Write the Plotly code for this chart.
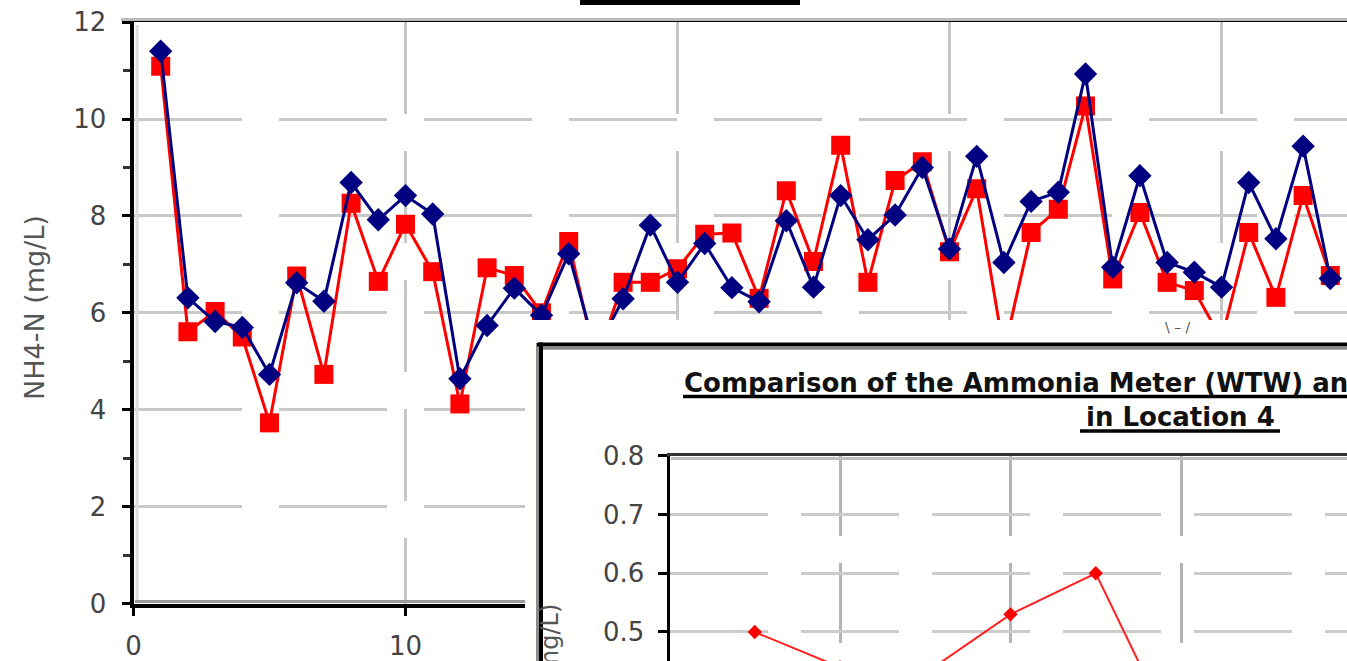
import plotly.graph_objects as go

W, H = 1347, 661

# NH4-N readings per sample (mg/L)
sample_no = list(range(1, 45))
nh4_wtw = [11.40, 6.31, 5.82, 5.70, 4.73, 6.62, 6.24, 8.69, 7.92, 8.42,
           8.04, 4.64, 5.74, 6.51, 5.95, 7.22, 5.20, 6.29, 7.81, 6.63,
           7.43, 6.52, 6.23, 7.90, 6.53, 8.42, 7.51, 8.02, 9.00, 7.32,
           9.23, 7.04, 8.30, 8.49, 10.93, 6.94, 8.83, 7.04, 6.84, 6.53,
           8.69, 7.53, 9.44, 6.71]
nh4_lab = [11.09, 5.61, 6.03, 5.50, 3.73, 6.76, 4.73, 8.26, 6.65, 7.83,
           6.85, 4.12, 6.93, 6.77, 6.00, 7.47, 5.00, 6.63, 6.63, 6.91,
           7.62, 7.65, 6.30, 8.52, 7.06, 9.46, 6.63, 8.73, 9.12, 7.26,
           8.56, 5.20, 7.66, 8.14, 10.27, 6.70, 8.07, 6.63, 6.46, 5.45,
           7.66, 6.32, 8.42, 6.77]

# Location 4 readings (mg/L)
loc4_sample = [1, 2, 3, 4, 5, 6]
loc4_nh4 = [0.50, 0.44, 0.43, 0.53, 0.60, 0.30]

main_yticks = [0, 2, 4, 6, 8, 10, 12]
main_xticks = [0, 10, 20, 30, 40]
inset_yticks = [0.5, 0.6, 0.7, 0.8]
inset_ticktext = ["0.5", "0.6", "0.7", "0.8"]


def px_x(p):
    return p / W


def px_y(p):
    return (H - p) / H


TICK_FONT = dict(family="DejaVu Sans", size=26, color="#444444")

fig = go.Figure()

fig.add_trace(go.Scatter(
    x=sample_no, y=nh4_lab, mode="lines+markers", name="Lab",
    line=dict(color="#FF0000", width=3),
    marker=dict(symbol="square", size=19, color="#FF0000", line=dict(width=0)),
    xaxis="x", yaxis="y", showlegend=False))
fig.add_trace(go.Scatter(
    x=sample_no, y=nh4_wtw, mode="lines+markers", name="WTW meter",
    line=dict(color="#000080", width=3),
    marker=dict(symbol="diamond", size=18, color="#000080", line=dict(width=0)),
    xaxis="x", yaxis="y", showlegend=False))
# empty trace so the white panel subplot is created right after the main one
fig.add_trace(go.Scatter(x=[], y=[], mode="markers", xaxis="x2", yaxis="y2",
                         showlegend=False, hoverinfo="skip"))
fig.add_trace(go.Scatter(
    x=loc4_sample, y=loc4_nh4, mode="lines+markers", name="Location 4",
    line=dict(color="#FF2020", width=2),
    marker=dict(symbol="diamond", size=11, color="#FF0000", line=dict(width=0)),
    xaxis="x3", yaxis="y3", showlegend=False))

x0_main, xs_main = 133.5, 27.2
layout = dict(
    width=W, height=H,
    margin=dict(l=0, r=0, t=0, b=0, pad=0, autoexpand=False),
    paper_bgcolor="#ffffff", plot_bgcolor="#fffffe", showlegend=False,
    xaxis=dict(
        domain=[px_x(x0_main), 1], range=[0, (W - x0_main) / xs_main],
        tickvals=main_xticks, ticks="outside", ticklen=8, tickwidth=3,
        tickcolor="black", showline=True, linecolor="black", linewidth=4,
        mirror=True, showgrid=True, gridcolor="#c8c8c8", gridwidth=3,
        griddash="92px,37px", zeroline=False, tickfont=TICK_FONT,
        ticklabelstandoff=8, anchor="y", automargin=False),
    yaxis=dict(
        domain=[px_y(603.6), px_y(22.1)], range=[0, 12],
        tickvals=main_yticks, ticks="outside", ticklen=8, tickwidth=3,
        tickcolor="black", showline=True, linecolor="black", linewidth=4,
        showgrid=True, gridcolor="#c8c8c8", gridwidth=3,
        griddash="108px,37px", zeroline=False, tickfont=TICK_FONT,
        ticklabelstandoff=10, anchor="x", automargin=False,
        minor=dict(dtick=1, tick0=0, ticks="outside", ticklen=7,
                   tickwidth=3, tickcolor="#333333", showgrid=False)),
    # white panel holding the Location 4 chart
    xaxis2=dict(domain=[px_x(525), 1], range=[0, 1], showline=False,
                showgrid=False, zeroline=False, showticklabels=False,
                ticks="", anchor="y2", automargin=False, fixedrange=True),
    yaxis2=dict(domain=[0, px_y(320)], range=[0, 1], showline=False,
                showgrid=False, zeroline=False, showticklabels=False,
                ticks="", anchor="x2", automargin=False, fixedrange=True),
    xaxis3=dict(domain=[px_x(669.5), 1], range=[0, (W - 669.5) / 85.25],
                dtick=2, tick0=0, side="top", showline=True,
                linecolor="#333333", linewidth=3, showticklabels=False,
                ticks="", showgrid=True, gridcolor="#b4b4b4", gridwidth=3,
                griddash="80px,27px", zeroline=False, anchor="y3",
                automargin=False),
    yaxis3=dict(domain=[0, px_y(455.5)], range=[0.4506, 0.8005],
                tickvals=inset_yticks, ticktext=inset_ticktext,
                ticks="outside", ticklen=9, tickwidth=3, tickcolor="black",
                showline=True, linecolor="black", linewidth=3,
                showgrid=True, gridcolor="#cccccc", gridwidth=3,
                griddash="98px,33px", zeroline=False, tickfont=TICK_FONT,
                ticklabelstandoff=8, anchor="x3", automargin=False),
)
fig.update_layout(**layout)


def pline(x0, y0, x1, y1, color, width):
    fig.add_shape(type="line", xref="paper", yref="paper",
                  x0=px_x(x0), y0=px_y(y0), x1=px_x(x1), y1=px_y(y1),
                  line=dict(color=color, width=width), layer="above")


# chart frame shading
pline(121, 19.5, W, 19.5, "#bbbbbb", 3)
pline(137, 25, 137, 601, "#dddddd", 3)
pline(135, 601.5, 525, 601.5, "#9a9a9a", 3)
# main title underline
fig.add_shape(type="rect", xref="paper", yref="paper",
              x0=px_x(580), x1=px_x(800), y0=px_y(5), y1=px_y(-2),
              fillcolor="black", line=dict(width=0), layer="above")
# panel border
pline(537.5, 343, 537.5, H + 2, "#8c8c8c", 3)
pline(541, 342.5, 541, H + 2, "black", 4)
pline(537, 344.5, W + 2, 344.5, "black", 4)
pline(543, 348.3, W + 2, 348.3, "#8c8c8c", 3)
pline(671, 458.5, W + 2, 458.5, "#bdbdbd", 3)
# panel title underlines
pline(683, 396.5, W + 2, 396.5, "black", 3.5)
pline(1080, 431, 1280, 431, "black", 3.5)

fig.add_annotation(
    text="NH4-N (mg/L)", textangle=-90, xref="paper", yref="paper",
    x=px_x(34), y=px_y(308), xanchor="center", yanchor="middle",
    showarrow=False, font=dict(family="DejaVu Sans", size=27, color="#555555"))
fig.add_annotation(
    text="<b>Comparison of the Ammonia Meter (WTW) and the Lab Analysis</b>",
    xref="paper", yref="paper", x=px_x(682), y=px_y(383),
    xanchor="left", yanchor="middle", showarrow=False,
    font=dict(family="DejaVu Sans", size=26, color="#111111"))
fig.add_annotation(
    text="<b>in Location 4</b>", xref="paper", yref="paper",
    x=px_x(1180), y=px_y(417), xanchor="center", yanchor="middle",
    showarrow=False, font=dict(family="DejaVu Sans", size=26, color="#111111"))
fig.add_annotation(
    text="NH4-N (mg/L)", textangle=-90, xref="paper", yref="paper",
    x=px_x(550), y=px_y(602), xanchor="center", yanchor="top",
    showarrow=False, font=dict(family="DejaVu Sans", size=24, color="#555555"))
fig.add_annotation(
    text="\\ \u2013 /", xref="paper", yref="paper",
    x=px_x(1178), y=px_y(327), xanchor="center", yanchor="middle",
    showarrow=False, font=dict(family="DejaVu Sans", size=14, color="#555555"))

fig.write_html("out.html")
